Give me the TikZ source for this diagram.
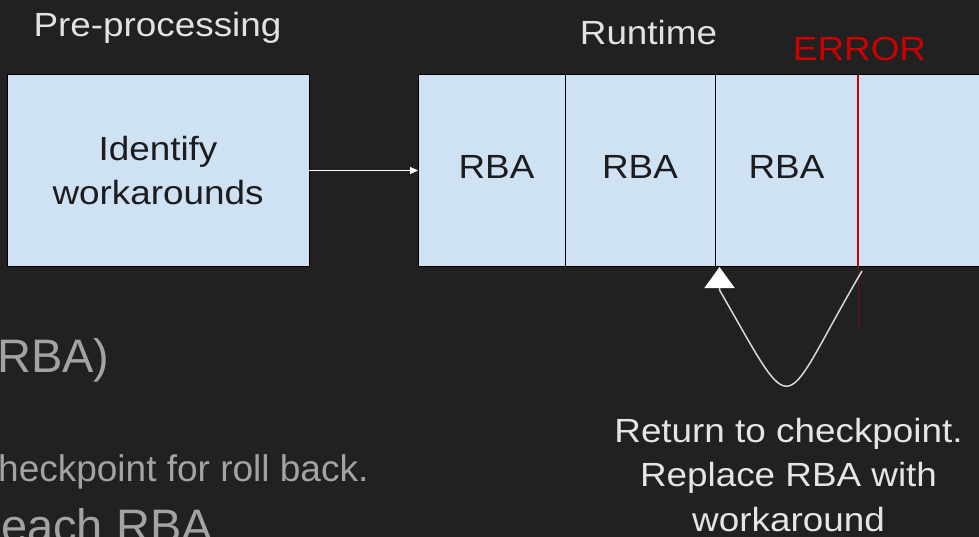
\documentclass[tikz,border=0pt]{standalone}
\usepackage{fontspec}
\setmainfont{Liberation Sans}
\newfontfamily\diafont{Liberation Sans}[FakeStretch=1.1]
\usetikzlibrary{arrows.meta,positioning}

\definecolor{slidebg}{RGB}{33,33,33}
\definecolor{cellblue}{RGB}{207,226,243}
\definecolor{errred}{RGB}{204,0,0}
\definecolor{titlegray}{RGB}{226,226,226}
\definecolor{notegray}{RGB}{163,163,163}
\definecolor{boxtext}{RGB}{28,28,30}
\definecolor{loopgray}{RGB}{216,216,216}

\tikzset{
	slidebox/.style={draw=black,line width=1pt,fill=cellblue,minimum height=191pt,inner sep=0pt,outer sep=0pt,anchor=north west,text=boxtext,font=\diafont\fontsize{33.5}{44}\selectfont},
	rbacell/.style={slidebox,text height=24pt,text depth=8pt},
	titletext/.style={text=titlegray,inner sep=0pt,anchor=base,font=\diafont\fontsize{33.5}{44.7}\selectfont},
	notetext/.style={text=notegray,inner sep=0pt,anchor=base west},
	flowarrow/.style={draw=white,line width=1pt,-{Triangle[length=8pt,width=7pt]}},
	loopline/.style={draw=loopgray,line width=1.5pt,-{Triangle[length=21pt,width=30pt,color=white]}}
}

\begin{document}
\begin{tikzpicture}[x=1pt,y=-1pt]
	% draw background
	\useasboundingbox (0,0) rectangle (979,537);
	\fill[slidebg] (0,0) rectangle (979,537);
	\clip (0,0) rectangle (979,537);
	% draw boxes
	\node[slidebox,minimum width=302pt,align=center] (ident) at (7,75) {Identify\\workarounds};
	\node[rbacell,minimum width=147pt] (rba1) at (418,75) {\hspace*{10pt}RBA};
	\node[rbacell,minimum width=150pt,right=0pt of rba1] (rba2) {RBA};
	\node[rbacell,minimum width=143pt,right=0pt of rba2] (rba3) {RBA};
	\node[rbacell,minimum width=140pt,right=0pt of rba3] (rba4) {};
	% draw error mark
	\draw[errred,line width=1.5pt] (rba4.north west) -- (rba4.south west);
	\coordinate[below=64pt of rba4.south west] (errend);
	\draw[errred!45!slidebg,line width=1pt] (rba4.south west) -- (errend);
	% draw links
	\draw[flowarrow] (ident) -- (rba1);
	\coordinate[below right=5pt and 4pt of rba4.south west] (loopstart);
	\coordinate[below right=1pt and 4.5pt of rba3.south west] (chk);
	\coordinate[below=23pt of chk] (chkfoot);
	\draw[loopline] (loopstart) .. controls (778,414) and (799,428) .. (chkfoot) -- (chk);
	% titles
	\node[titletext] (pretitle) at (157.5,37) {Pre-processing};
	\node[titletext] (runtitle) at (648.5,44.3) {Runtime};
	\node[titletext,text=errred] (errtitle) at (859.5,60.7) {ERROR};
	\node[titletext,anchor=center,align=center,text=white!90!black] (fixnote) at (788.5,475) {Return to checkpoint.\\Replace RBA with\\workaround};
	% slide text
	\node[notetext,font=\fontsize{47}{56}\selectfont] (rbanote) at (-3,372) {RBA)};
	\node[notetext,font=\fontsize{37}{45}\selectfont] (rollnote) at (-2,481) {heckpoint for roll back.};
	\node[notetext,font=\fontsize{47}{56}\selectfont] (eachnote) at (1,542) {each RBA};
\end{tikzpicture}
\end{document}
